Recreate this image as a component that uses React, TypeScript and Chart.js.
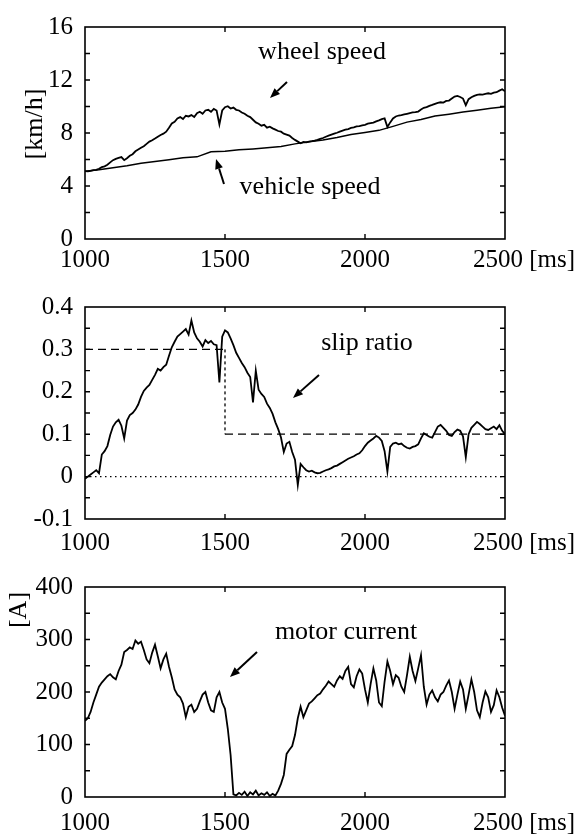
import React, { useEffect, useRef } from "react";
import { Chart, registerables } from "chart.js";

Chart.register(...registerables);

const FONT = '"Liberation Serif", "Times New Roman", serif';

// ---- data ----
const TIME_MS = [
  1000, 1010, 1020, 1030, 1040, 1050, 1060, 1070, 1080, 1090,
  1100, 1110, 1120, 1130, 1140, 1150, 1160, 1170, 1180, 1190,
  1200, 1210, 1220, 1230, 1240, 1250, 1260, 1270, 1280, 1290,
  1300, 1310, 1320, 1330, 1340, 1350, 1360, 1370, 1380, 1390,
  1400, 1410, 1420, 1430, 1440, 1450, 1460, 1470, 1480, 1490,
  1500, 1510, 1520, 1530, 1540, 1550, 1560, 1570, 1580, 1590,
  1600, 1610, 1620, 1630, 1640, 1650, 1660, 1670, 1680, 1690,
  1700, 1710, 1720, 1730, 1740, 1750, 1760, 1770, 1780, 1790,
  1800, 1810, 1820, 1830, 1840, 1850, 1860, 1870, 1880, 1890,
  1900, 1910, 1920, 1930, 1940, 1950, 1960, 1970, 1980, 1990,
  2000, 2010, 2020, 2030, 2040, 2050, 2060, 2070, 2080, 2090,
  2100, 2110, 2120, 2130, 2140, 2150, 2160, 2170, 2180, 2190,
  2200, 2210, 2220, 2230, 2240, 2250, 2260, 2270, 2280, 2290,
  2300, 2310, 2320, 2330, 2340, 2350, 2360, 2370, 2380, 2390,
  2400, 2410, 2420, 2430, 2440, 2450, 2460, 2470, 2480, 2490,
  2500,
];

const WHEEL_SPEED = [
  5.12, 5.10, 5.15, 5.20, 5.22, 5.30, 5.42, 5.48, 5.60, 5.78,
  5.95, 6.05, 6.12, 6.18, 5.95, 6.10, 6.28, 6.40, 6.62, 6.75,
  6.88, 7.00, 7.18, 7.35, 7.45, 7.58, 7.72, 7.85, 7.95, 8.10,
  8.40, 8.72, 8.85, 9.10, 9.20, 9.05, 9.30, 9.25, 9.35, 9.20,
  9.50, 9.60, 9.45, 9.70, 9.75, 9.60, 9.82, 9.70, 8.65, 9.70,
  9.95, 10.02, 9.85, 9.92, 9.75, 9.70, 9.55, 9.45, 9.30, 9.20,
  9.00, 8.80, 8.70, 8.55, 8.62, 8.40, 8.48, 8.35, 8.25, 8.15,
  8.10, 7.95, 7.88, 7.80, 7.62, 7.48, 7.35, 7.22, 7.32, 7.30,
  7.35, 7.38, 7.42, 7.48, 7.55, 7.62, 7.72, 7.80, 7.88, 7.95,
  8.02, 8.10, 8.18, 8.25, 8.30, 8.38, 8.42, 8.50, 8.52, 8.58,
  8.62, 8.70, 8.75, 8.78, 8.88, 8.95, 9.05, 9.10, 8.45, 8.80,
  9.10, 9.25, 9.32, 9.35, 9.40, 9.45, 9.50, 9.55, 9.58, 9.62,
  9.78, 9.90, 9.95, 10.05, 10.12, 10.20, 10.28, 10.32, 10.30, 10.42,
  10.45, 10.60, 10.75, 10.80, 10.72, 10.60, 10.10, 10.55, 10.70, 10.80,
  10.88, 10.92, 10.90, 10.95, 11.00, 10.95, 11.05, 11.08, 11.20, 11.30,
  11.15,
];

const VEHICLE_TIME_MS = [
  1000, 1050, 1100, 1150, 1200, 1250, 1300, 1350, 1400, 1450,
  1500, 1550, 1600, 1650, 1700, 1750, 1800, 1850, 1900, 1950,
  2000, 2050, 2100, 2150, 2200, 2250, 2300, 2350, 2400, 2450,
  2500,
];

const VEHICLE_SPEED = [
  5.12, 5.22, 5.37, 5.52, 5.72, 5.84, 5.98, 6.14, 6.20, 6.58,
  6.62, 6.74, 6.80, 6.88, 6.98, 7.18, 7.34, 7.47, 7.66, 7.88,
  8.04, 8.20, 8.50, 8.82, 9.02, 9.28, 9.42, 9.58, 9.72, 9.86,
  9.98,
];

const SLIP_RATIO = [
  -0.005, 0.000, 0.005, 0.010, 0.015, 0.008, 0.052, 0.060, 0.072, 0.098,
  0.118, 0.128, 0.134, 0.120, 0.090, 0.132, 0.145, 0.150, 0.158, 0.170,
  0.188, 0.202, 0.210, 0.216, 0.228, 0.240, 0.254, 0.250, 0.258, 0.264,
  0.285, 0.305, 0.318, 0.330, 0.336, 0.342, 0.348, 0.335, 0.368, 0.340,
  0.326, 0.318, 0.307, 0.322, 0.315, 0.320, 0.312, 0.310, 0.222, 0.330,
  0.345, 0.340, 0.326, 0.310, 0.292, 0.280, 0.268, 0.258, 0.245, 0.235,
  0.175, 0.250, 0.205, 0.195, 0.188, 0.172, 0.162, 0.148, 0.128, 0.112,
  0.092, 0.058, 0.078, 0.082, 0.058, 0.040, -0.020, 0.030, 0.022, 0.015,
  0.012, 0.014, 0.010, 0.008, 0.009, 0.012, 0.015, 0.017, 0.020, 0.024,
  0.026, 0.030, 0.034, 0.038, 0.042, 0.045, 0.048, 0.052, 0.055, 0.062,
  0.072, 0.080, 0.085, 0.090, 0.096, 0.092, 0.084, 0.060, 0.012, 0.070,
  0.078, 0.080, 0.076, 0.078, 0.072, 0.068, 0.066, 0.070, 0.072, 0.076,
  0.090, 0.102, 0.098, 0.094, 0.092, 0.105, 0.118, 0.122, 0.115, 0.108,
  0.098, 0.096, 0.105, 0.111, 0.108, 0.095, 0.046, 0.100, 0.115, 0.122,
  0.129, 0.124, 0.118, 0.112, 0.110, 0.114, 0.118, 0.112, 0.121, 0.108,
  0.100,
];

const SLIP_REF_TIME_MS = [1000, 1500, 1500, 2500];
const SLIP_REF = [0.3, 0.3, 0.1, 0.1];
const ZERO_TIME_MS = [1000, 2500];
const ZERO_LINE = [0, 0];

const MOTOR_CURRENT = [
  145, 150, 162, 180, 195, 210, 218, 224, 230, 234,
  228, 224, 240, 252, 276, 280, 285, 282, 298, 292,
  296, 280, 262, 255, 275, 290, 268, 245, 262, 273,
  248, 228, 205, 195, 190, 178, 152, 172, 176, 162,
  168, 182, 195, 200, 180, 165, 162, 190, 200, 180,
  168, 130, 80, 5, 3, 8, 4, 10, 2, 9,
  5, 12, 3, 7, 4, 9, 2, 6, 3, 12,
  25, 42, 82, 90, 97, 118, 150, 172, 152, 165,
  178, 182, 188, 194, 197, 205, 212, 220, 215, 210,
  222, 230, 225, 240, 248, 215, 209, 230, 243, 235,
  205, 180, 215, 245, 222, 180, 173, 220, 258, 240,
  215, 232, 227, 210, 200, 232, 267, 240, 221, 245,
  270, 210, 176, 195, 203, 190, 182, 195, 200, 212,
  222, 200, 168, 195, 220, 205, 168, 195, 224, 200,
  165, 152, 180, 201, 190, 162, 175, 203, 190, 170,
  155,
];

const X_TICK_LABELS = [1000, 1500, 2000, 2500];
const X_TICK_MARKS = [1500, 2000];
const SPEED_TICK_LABELS = [0, 4, 8, 12, 16];
const SPEED_TICK_MARKS = [2, 4, 6, 8, 10, 12, 14];
const SLIP_TICK_LABELS = [-0.1, 0, 0.1, 0.2, 0.3, 0.4];
const SLIP_TICK_MARKS = [-0.05, 0, 0.05, 0.1, 0.15, 0.2, 0.25, 0.3, 0.35];
const CURRENT_TICK_LABELS = [0, 100, 200, 300, 400];
const CURRENT_TICK_MARKS = [50, 100, 150, 200, 250, 300, 350];

// ---- helpers ----
const pts = (xs: number[], ys: number[]) => xs.map((x, i) => ({ x, y: ys[i] }));

type Note = { text: string; x: number; y: number };
type Arrow = { x1: number; y1: number; x2: number; y2: number };
type PanelCfg = {
  top: number;
  height: number;
  plotTop: number;
  plotBottom: number;
  yMin: number;
  yMax: number;
  yLabels: number[];
  yMarks: number[];
  xLabelY: number;
  datasets: any[];
  unit?: { text: string; x: number; y: number };
  notes: Note[];
  arrows: Arrow[];
};

function drawArrow(ctx: CanvasRenderingContext2D, a: Arrow) {
  const ang = Math.atan2(a.y2 - a.y1, a.x2 - a.x1);
  const len = 10;
  const hw = 4;
  const bx = a.x2 - len * Math.cos(ang);
  const by = a.y2 - len * Math.sin(ang);
  ctx.beginPath();
  ctx.moveTo(a.x1, a.y1);
  ctx.lineTo(bx, by);
  ctx.lineWidth = 2;
  ctx.strokeStyle = "#000";
  ctx.stroke();
  ctx.beginPath();
  ctx.moveTo(a.x2, a.y2);
  ctx.lineTo(bx + hw * Math.sin(ang), by - hw * Math.cos(ang));
  ctx.lineTo(bx - hw * Math.sin(ang), by + hw * Math.cos(ang));
  ctx.closePath();
  ctx.fillStyle = "#000";
  ctx.fill();
}

function Panel({ cfg }: { cfg: PanelCfg }) {
  const ref = useRef<HTMLCanvasElement>(null);
  useEffect(() => {
    const deco = {
      id: "deco",
      afterDraw(chart: any) {
        const ctx: CanvasRenderingContext2D = chart.ctx;
        const { left, right, top, bottom } = chart.chartArea;
        const xs = chart.scales.x;
        const ys = chart.scales.y;
        ctx.save();
        ctx.strokeStyle = "#000";
        ctx.lineWidth = 1.6;
        ctx.strokeRect(left, top, right - left, bottom - top);
        ctx.lineWidth = 1.4;
        const tl = 5;
        ctx.beginPath();
        cfg.yMarks.forEach((v) => {
          const py = ys.getPixelForValue(v);
          ctx.moveTo(left, py);
          ctx.lineTo(left + tl, py);
          ctx.moveTo(right, py);
          ctx.lineTo(right - tl, py);
        });
        X_TICK_MARKS.forEach((v) => {
          const px = xs.getPixelForValue(v);
          ctx.moveTo(px, top);
          ctx.lineTo(px, top + tl);
          ctx.moveTo(px, bottom);
          ctx.lineTo(px, bottom - tl);
        });
        ctx.stroke();

        ctx.fillStyle = "#000";
        ctx.font = `25px ${FONT}`;
        ctx.textBaseline = "middle";
        X_TICK_LABELS.forEach((v, i) => {
          const px = xs.getPixelForValue(v);
          if (i === X_TICK_LABELS.length - 1) {
            ctx.textAlign = "right";
            ctx.fillText(`${v} [ms]`, chart.width - 3, cfg.xLabelY);
          } else {
            ctx.textAlign = "center";
            ctx.fillText(String(v), px, cfg.xLabelY);
          }
        });

        ctx.font = `26px ${FONT}`;
        ctx.textAlign = "center";
        cfg.notes.forEach((n) => ctx.fillText(n.text, n.x, n.y));
        if (cfg.unit) {
          ctx.save();
          ctx.translate(cfg.unit.x, cfg.unit.y);
          ctx.rotate(-Math.PI / 2);
          ctx.fillText(cfg.unit.text, 0, 0);
          ctx.restore();
        }
        cfg.arrows.forEach((a) => drawArrow(ctx, a));
        ctx.restore();
      },
    };

    const chart = new Chart(ref.current as HTMLCanvasElement, {
      type: "line",
      data: { datasets: cfg.datasets },
      options: {
        animation: false,
        responsive: false,
        devicePixelRatio: 1,
        events: [],
        layout: {
          padding: {
            left: 0,
            right: 73,
            top: cfg.plotTop,
            bottom: cfg.height - cfg.plotBottom,
          },
        },
        plugins: { legend: { display: false }, tooltip: { enabled: false } },
        elements: { point: { radius: 0 }, line: { tension: 0 } },
        scales: {
          x: {
            type: "linear",
            min: 1000,
            max: 2500,
            display: false,
          },
          y: {
            type: "linear",
            min: cfg.yMin,
            max: cfg.yMax,
            grid: { display: false, drawTicks: false },
            border: { display: false },
            afterFit: (s: any) => {
              s.width = 85;
            },
            afterBuildTicks: (s: any) => {
              s.ticks = cfg.yLabels.map((v) => ({ value: v }));
            },
            ticks: {
              padding: 12,
              color: "#000",
              font: { family: FONT, size: 25 },
              callback: (v: any) => String(Math.round(Number(v) * 1000) / 1000),
            },
          },
        },
      } as any,
      plugins: [deco],
    });
    return () => chart.destroy();
  }, [cfg]);
  return (
    <canvas
      ref={ref}
      width={578}
      height={cfg.height}
      style={{ position: "absolute", left: 0, top: cfg.top, width: 578, height: cfg.height, display: "block" }}
    />
  );
}

const lineStyle = { borderColor: "#000", borderWidth: 1.8, pointRadius: 0, fill: false };

const PANELS: PanelCfg[] = [
  {
    top: 0,
    height: 280,
    plotTop: 21,
    plotBottom: 239,
    yMin: 0,
    yMax: 16,
    yLabels: SPEED_TICK_LABELS,
    yMarks: SPEED_TICK_MARKS,
    xLabelY: 260,
    datasets: [
      { ...lineStyle, label: "wheel speed", data: pts(TIME_MS, WHEEL_SPEED) },
      { ...lineStyle, borderWidth: 1.5, label: "vehicle speed", data: pts(VEHICLE_TIME_MS, VEHICLE_SPEED) },
    ],
    unit: { text: "[km/h]", x: 35, y: 124 },
    notes: [
      { text: "wheel speed", x: 322, y: 52 },
      { text: "vehicle speed", x: 310, y: 187 },
    ],
    arrows: [
      { x1: 287, y1: 82, x2: 270, y2: 98 },
      { x1: 224, y1: 184, x2: 216, y2: 159 },
    ],
  },
  {
    top: 280,
    height: 280,
    plotTop: 18,
    plotBottom: 239,
    yMin: -0.1,
    yMax: 0.4,
    yLabels: SLIP_TICK_LABELS,
    yMarks: SLIP_TICK_MARKS,
    xLabelY: 263,
    datasets: [
      {
        ...lineStyle,
        borderWidth: 1.3,
        label: "reference",
        data: pts(SLIP_REF_TIME_MS, SLIP_REF),
        borderDash: [8, 5],
        segment: { borderDash: (c: any) => (c.p0DataIndex === 1 ? [3, 3] : [8, 5]) },
      },
      { ...lineStyle, borderWidth: 1.2, label: "zero", data: pts(ZERO_TIME_MS, ZERO_LINE), borderDash: [1.5, 3.5] },
      { ...lineStyle, label: "slip ratio", data: pts(TIME_MS, SLIP_RATIO) },
    ],
    notes: [{ text: "slip ratio", x: 367, y: 63 }],
    arrows: [{ x1: 319, y1: 95, x2: 293, y2: 118 }],
  },
  {
    top: 560,
    height: 277,
    plotTop: 17,
    plotBottom: 237,
    yMin: 0,
    yMax: 400,
    yLabels: CURRENT_TICK_LABELS,
    yMarks: CURRENT_TICK_MARKS,
    xLabelY: 263,
    datasets: [{ ...lineStyle, label: "motor current", data: pts(TIME_MS, MOTOR_CURRENT) }],
    unit: { text: "[A]", x: 19, y: 50 },
    notes: [{ text: "motor current", x: 346, y: 72 }],
    arrows: [{ x1: 257, y1: 92, x2: 230, y2: 117 }],
  },
];

export default function App() {
  return (
    <div style={{ position: "absolute", left: 0, top: 0, width: 578, height: 837, background: "#fff", overflow: "hidden" }}>
      {PANELS.map((p, i) => (
        <Panel key={i} cfg={p} />
      ))}
    </div>
  );
}
